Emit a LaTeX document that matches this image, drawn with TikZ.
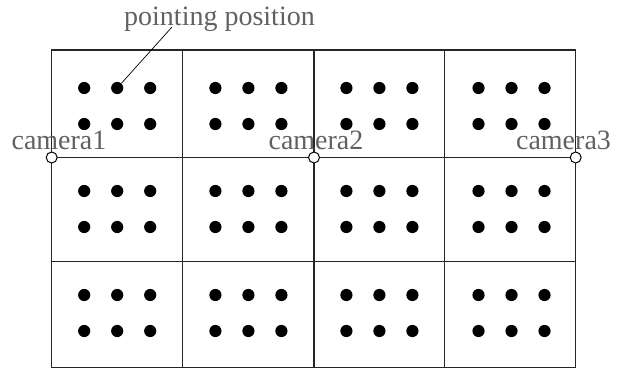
\documentclass[tikz,border=0pt]{standalone}
\usepackage{fontspec}
\setmainfont{Liberation Serif}
\begin{document}
\begin{tikzpicture}[x=1pt,y=-1pt,
  gridline/.style={line width=1.2pt,black!85},
  dot/.style={circle,fill=black,inner sep=0pt,minimum size=12.2pt},
  cam/.style={circle,draw=black,fill=white,line width=1pt,inner sep=0pt,minimum size=11pt},
  lbl/.style={text=black!62,font=\fontsize{28}{31}\selectfont,inner sep=0pt,anchor=base},
  leader/.style={line width=0.7pt,black}]
\useasboundingbox (0,0) rectangle (619,369);
% grid
\draw[gridline] (51.7,50) rectangle (575.7,367.3);
\foreach \x in {182.7,314,444.7} \draw[gridline] (\x,50) -- (\x,367.3);
\foreach \y in {157.5,261.3} \draw[gridline] (51.7,\y) -- (575.7,\y);
% dots
\foreach \cx [count=\i] in {117.2,248.4,379.4,511.5}
  \foreach \cy [count=\j] in {88,124,191,227,295,331}
    \foreach \dx [count=\k] in {-33,0,33}
      \node[dot] (d-\i-\j-\k) at (\cx+\dx,\cy) {};
% labels
\node[lbl] (l1) at (59,149.5) {camera1};
\node[lbl] (l2) at (316,149.5) {camera2};
\node[lbl] (l3) at (563.5,149.5) {camera3};
\node[lbl] (pp) at (219.5,26) {pointing position};
% cameras
\node[cam] (c1) at (51.7,157.5) {};
\node[cam] (c2) at (314,157.5) {};
\node[cam] (c3) at (575.7,157.5) {};
% leader
\coordinate (pt) at (172,27);
\draw[leader] (pt) -- (d-1-1-2);
\end{tikzpicture}
\end{document}
